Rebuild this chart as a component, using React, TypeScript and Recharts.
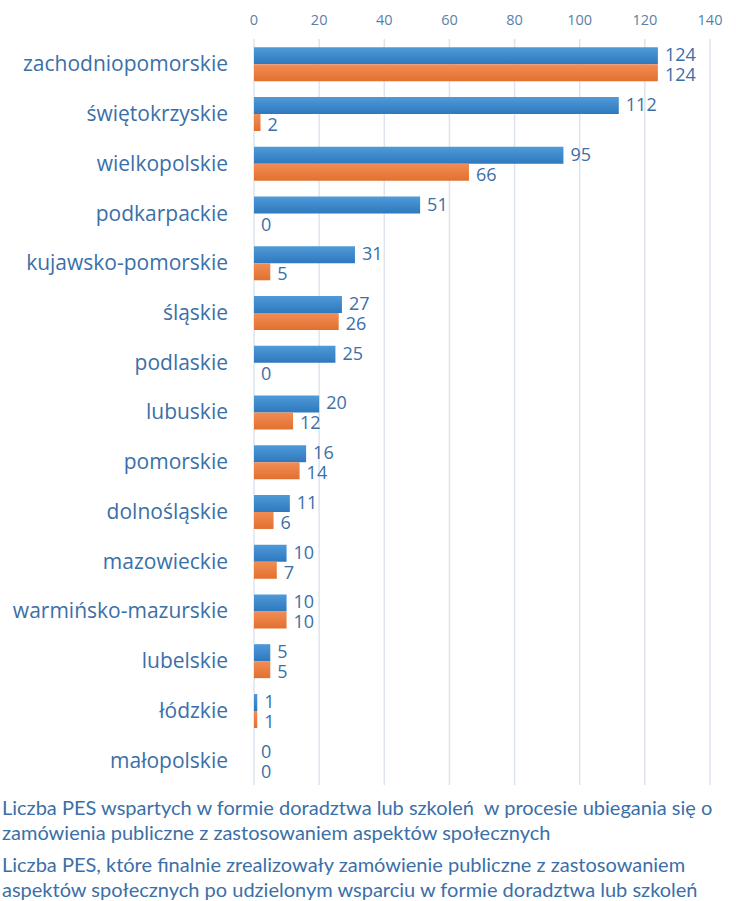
import React from "react";
import { BarChart, Bar, XAxis, YAxis, CartesianGrid, LabelList } from "recharts";

const categories = [
  "zachodniopomorskie",
  "świętokrzyskie",
  "wielkopolskie",
  "podkarpackie",
  "kujawsko-pomorskie",
  "śląskie",
  "podlaskie",
  "lubuskie",
  "pomorskie",
  "dolnośląskie",
  "mazowieckie",
  "warmińsko-mazurskie",
  "lubelskie",
  "łódzkie",
  "małopolskie",
];
const supported = [124, 112, 95, 51, 31, 27, 25, 20, 16, 11, 10, 10, 5, 1, 0];
const realized = [124, 2, 66, 0, 5, 26, 0, 12, 14, 6, 7, 10, 5, 1, 0];
const xTicks = [0, 20, 40, 60, 80, 100, 120, 140];
const seriesNames = [
  "Liczba PES wspartych w formie doradztwa lub szkoleń  w procesie ubiegania się o zamówienia publiczne z zastosowaniem aspektów społecznych",
  "Liczba PES, które finalnie zrealizowały zamówienie publiczne z zastosowaniem aspektów społecznych po udzielonym wsparciu w formie doradztwa lub szkoleń",
];

const data = categories.map((c, i) => ({ name: c, a: supported[i], b: realized[i] }));

const TEXT = "#3b6fa8";
const FONT = "'Open Sans', sans-serif";
const LEGEND_FONT = "Lato, 'Open Sans', sans-serif";

const minSize = (v: number) => (v === 0 ? 0.01 : 0);

const makeLabel = (dy: number) => (props: any) => {
  const { x, y, width, height, value } = props;
  return (
    <text
      x={Number(x) + Number(width) + 7}
      y={Number(y) + Number(height) / 2 + dy}
      fill={TEXT}
      fontSize={18}
      fontFamily={FONT}
      dominantBaseline="central"
      textAnchor="start"
    >
      {value}
    </text>
  );
};

export default function App() {
  return (
    <div style={{ position: "absolute", left: 0, top: 0, width: 736, height: 901, background: "#fff", overflow: "hidden", fontFamily: FONT }}>
      <BarChart
        width={736}
        height={901}
        data={data}
        layout="vertical"
        margin={{ top: 0, right: 26, bottom: 116, left: 0 }}
        barCategoryGap="16.8%"
        barGap={0}
      >
        <defs>
          <linearGradient id="gBlue" x1="0" y1="0" x2="0" y2="1">
            <stop offset="0%" stopColor="#4f9ad8" />
            <stop offset="100%" stopColor="#2e78be" />
          </linearGradient>
          <linearGradient id="gOrange" x1="0" y1="0" x2="0" y2="1">
            <stop offset="0%" stopColor="#f28d55" />
            <stop offset="100%" stopColor="#e2702f" />
          </linearGradient>
        </defs>
        <CartesianGrid horizontal={false} vertical stroke="#dde4ee" strokeWidth={1.5} />
        <XAxis
          type="number"
          orientation="top"
          domain={[0, 140]}
          ticks={xTicks}
          height={39}
          axisLine={false}
          tickLine={false}
          tick={{ fill: "#5b7fa8", fontSize: 14.5, fontFamily: FONT }}
          tickMargin={8}
        />
        <YAxis
          type="category"
          dataKey="name"
          width={254}
          axisLine={false}
          tickLine={false}
          tick={{ fill: TEXT, fontSize: 21, fontFamily: FONT }}
          tickMargin={20}
        />
        <Bar dataKey="a" fill="url(#gBlue)" minPointSize={minSize} isAnimationActive={false}>
          <LabelList dataKey="a" content={makeLabel(-1.5)} />
        </Bar>
        <Bar dataKey="b" fill="url(#gOrange)" minPointSize={minSize} isAnimationActive={false}>
          <LabelList dataKey="b" content={makeLabel(1.5)} />
        </Bar>
      </BarChart>
      <div style={{ position: "absolute", left: 2, top: 795, color: TEXT, fontSize: 20, lineHeight: "25px", fontFamily: LEGEND_FONT }}>
        {seriesNames.map((s, i) => (
          <div key={i} style={{ marginBottom: 7, width: 736, whiteSpace: "pre-wrap" }}>{s}</div>
        ))}
      </div>
    </div>
  );
}
